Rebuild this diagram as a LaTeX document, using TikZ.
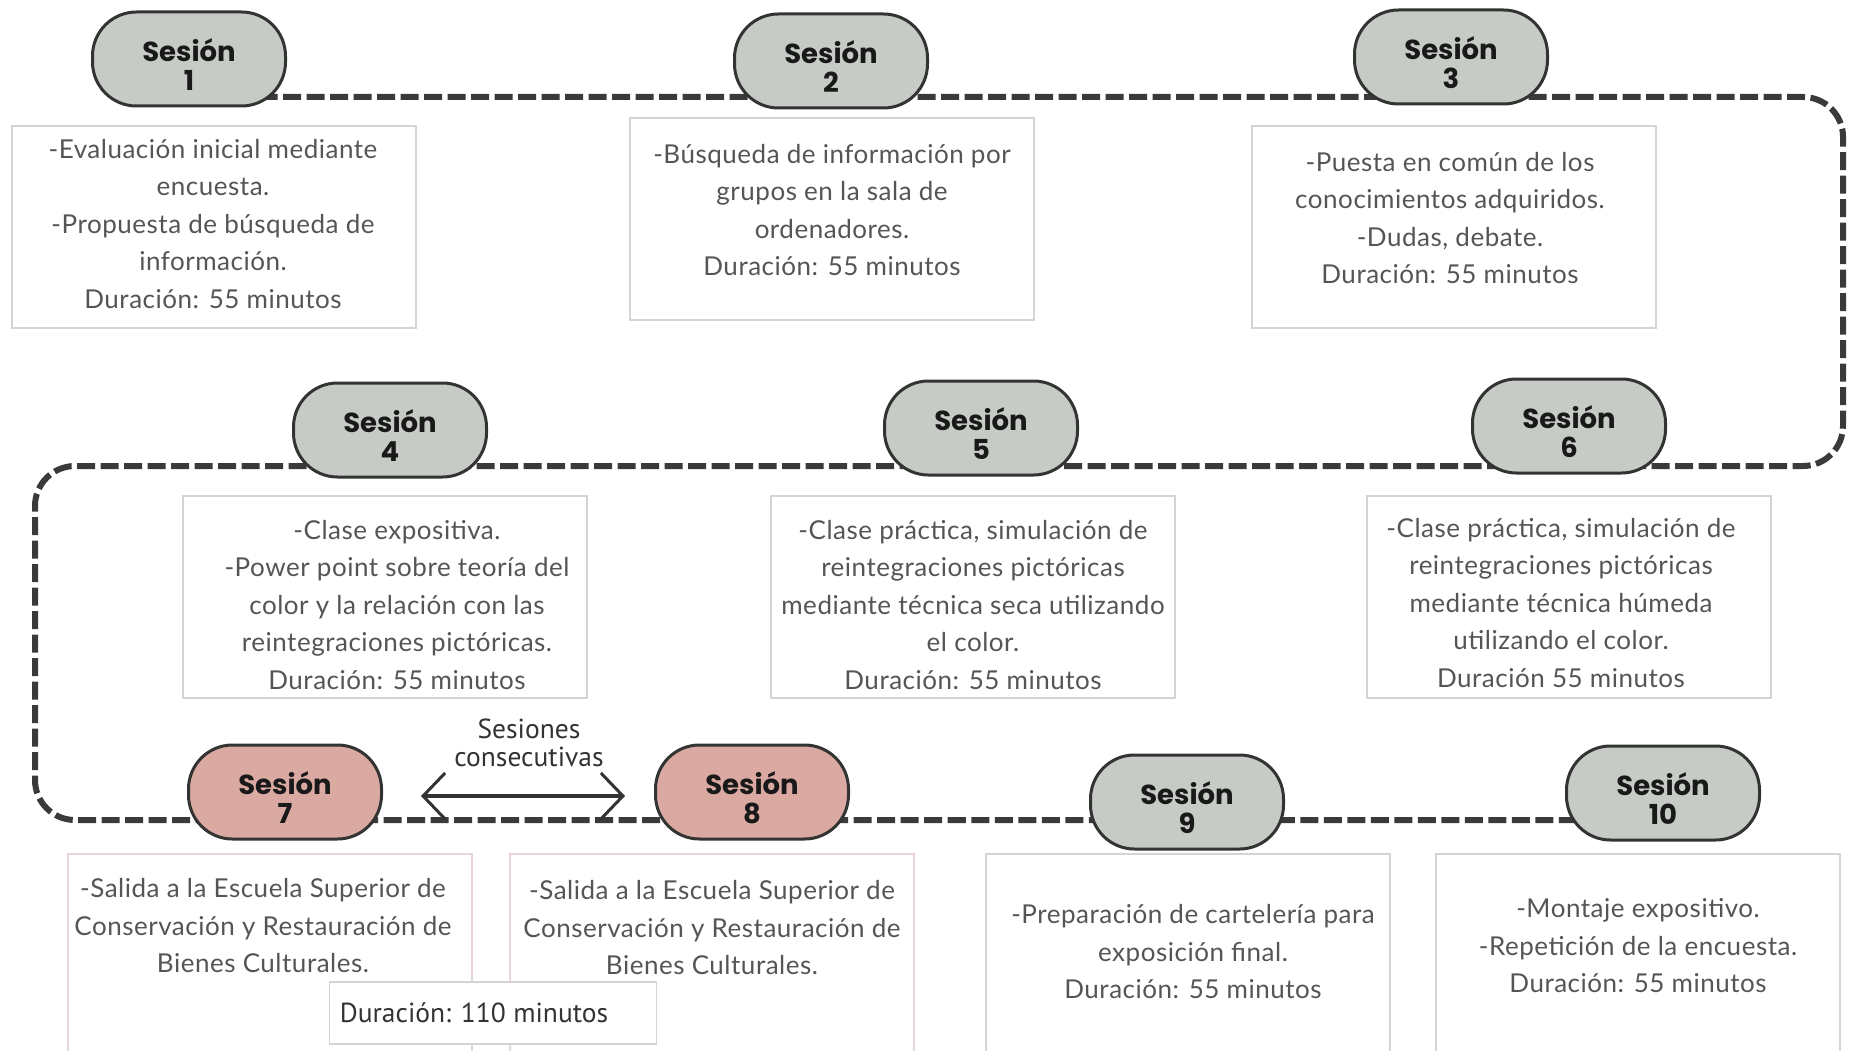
\documentclass[tikz,border=0pt]{standalone}
\usepackage{fontspec}
\setmainfont{Lato}[LetterSpace=2]
\newfontfamily\headfont{Poppins}
\newfontfamily\condfont{PT Sans}
\usetikzlibrary{arrows.meta,backgrounds}
\definecolor{pillgray}{HTML}{C6CCC5}
\definecolor{pillpink}{HTML}{D9A9A2}
\definecolor{edge}{HTML}{333333}
\definecolor{dashcol}{HTML}{3A3A3A}
\definecolor{bodytext}{HTML}{555555}
\definecolor{boxline}{HTML}{D4D4D4}
\definecolor{boxpink}{HTML}{E8D6D6}
\newcommand{\sesname}[1]{\rule{0pt}{34pt}Sesión\\#1}
\begin{document}
\begin{tikzpicture}[x=1pt,y=-1pt,
  pill/.style={draw=edge, line width=3pt, rounded corners=44pt,
    minimum width=193pt, minimum height=94pt, inner sep=0pt, align=center,
    font=\headfont\bfseries\fontsize{27.5}{28.5}\selectfont, text=black!90},
  graypill/.style={pill, fill=pillgray},
  pinkpill/.style={pill, fill=pillpink},
  infobox/.style={draw=boxline, line width=1.5pt, minimum width=404pt,
    minimum height=202pt, inner sep=0pt},
  lowbox/.style={infobox, minimum height=216pt},
  body/.style={align=center, text=bodytext, inner sep=0pt,
    font=\fontsize{26}{37.5}\selectfont},
  timeline/.style={draw=dashcol, line width=6pt, dash pattern=on 18pt off 5.5pt,
    rounded corners=40pt},
  note/.style={align=center, text=edge, inner sep=0pt,
    font=\condfont\fontsize{27.5}{28}\selectfont}
]
\useasboundingbox (0,0) rectangle (1849,1051);

% session pills
\node[graypill] (s1) at (189,59) {\sesname{1}};
\node[graypill] (s2) at (831,61) {\sesname{2}};
\node[graypill] (s3) at (1451,57) {\sesname{3}};
\node[graypill] (s4) at (390,430) {\sesname{4}};
\node[graypill] (s5) at (981,428) {\sesname{5}};
\node[graypill] (s6) at (1569,426) {\sesname{6}};
\node[pinkpill] (s7) at (285,792) {\sesname{7}};
\node[pinkpill] (s8) at (752,792) {\sesname{8}};
\node[graypill] (s9) at (1187,802) {\sesname{9}};
\node[graypill] (s10) at (1663,793) {\sesname{10}};

% timeline
\begin{scope}[on background layer]
\fill[white] (0,0) rectangle (1849,1051);
\draw[timeline] (s1.center |- 0,97) -- (1843,97) -- (1843,466)
  -- (35,466) -- (35,820) -- (s10.center |- 0,820);
\end{scope}

% info boxes
\node[infobox] (b1) at (214,227) {};
\node[infobox] (b2) at (832,219) {};
\node[infobox] (b3) at (1454,227) {};
\node[infobox] (b4) at (385,597) {};
\node[infobox] (b5) at (973,597) {};
\node[infobox] (b6) at (1569,597) {};
\node[lowbox, draw=boxpink] (b7) at (270,962) {};
\node[lowbox, draw=boxpink] (b8) at (712,962) {};
\node[lowbox] (b9) at (1188,962) {};
\node[lowbox] (b10) at (1638,962) {};

\node[body] (t1) at (213,224) {-Evaluación inicial mediante\\encuesta.\\-Propuesta de búsqueda de\\información.\\Duración: 55 minutos};
\node[body] (t2) at (832,210) {-Búsqueda de información por\\grupos en la sala de\\ordenadores.\\Duración: 55 minutos};
\node[body] (t3) at (1450,218) {-Puesta en común de los\\conocimientos adquiridos.\\-Dudas, debate.\\Duración: 55 minutos};
\node[body] (t4) at (397,605) {-Clase expositiva.\\-Power point sobre teoría del\\color y la relación con las\\reintegraciones pictóricas.\\Duración: 55 minutos};
\node[body] (t5) at (973,605) {-Clase práctica, simulación de\\reintegraciones pictóricas\\mediante técnica seca utilizando\\el color.\\Duración: 55 minutos};
\node[body] (t6) at (1561,603) {-Clase práctica, simulación de\\reintegraciones pictóricas\\mediante técnica húmeda\\utilizando el color.\\Duración 55 minutos};
\node[body] (t7) at (263,926) {-Salida a la Escuela Superior de\\Conservación y Restauración de\\Bienes Culturales.};
\node[body] (t8) at (712,928) {-Salida a la Escuela Superior de\\Conservación y Restauración de\\Bienes Culturales.};
\node[body] (t9) at (1193,952) {-Preparación de cartelería para\\exposición final.\\Duración: 55 minutos};
\node[body] (t10) at (1638,946) {-Montaje expositivo.\\-Repetición de la encuesta.\\Duración: 55 minutos};

% shared duration
\node[draw=boxline, fill=white, line width=1.5pt, minimum width=327pt,
  minimum height=62pt, inner sep=0pt] (dbox) at (493,1013) {};
\node[note] (dtext) at (474,1013) {Duración: 110 minutos};

% consecutive sessions
\node[note] (cons) at (529,743) {Sesiones\\consecutivas};
\coordinate (arrL) at (421,796);
\coordinate (arrR) at (625,796);
\draw[edge, line width=4pt,
  arrows={Straight Barb[length=22pt,width=46pt,line width=3pt]-Straight Barb[length=22pt,width=46pt,line width=3pt]}]
  (arrL) -- (arrR);
\end{tikzpicture}
\end{document}
